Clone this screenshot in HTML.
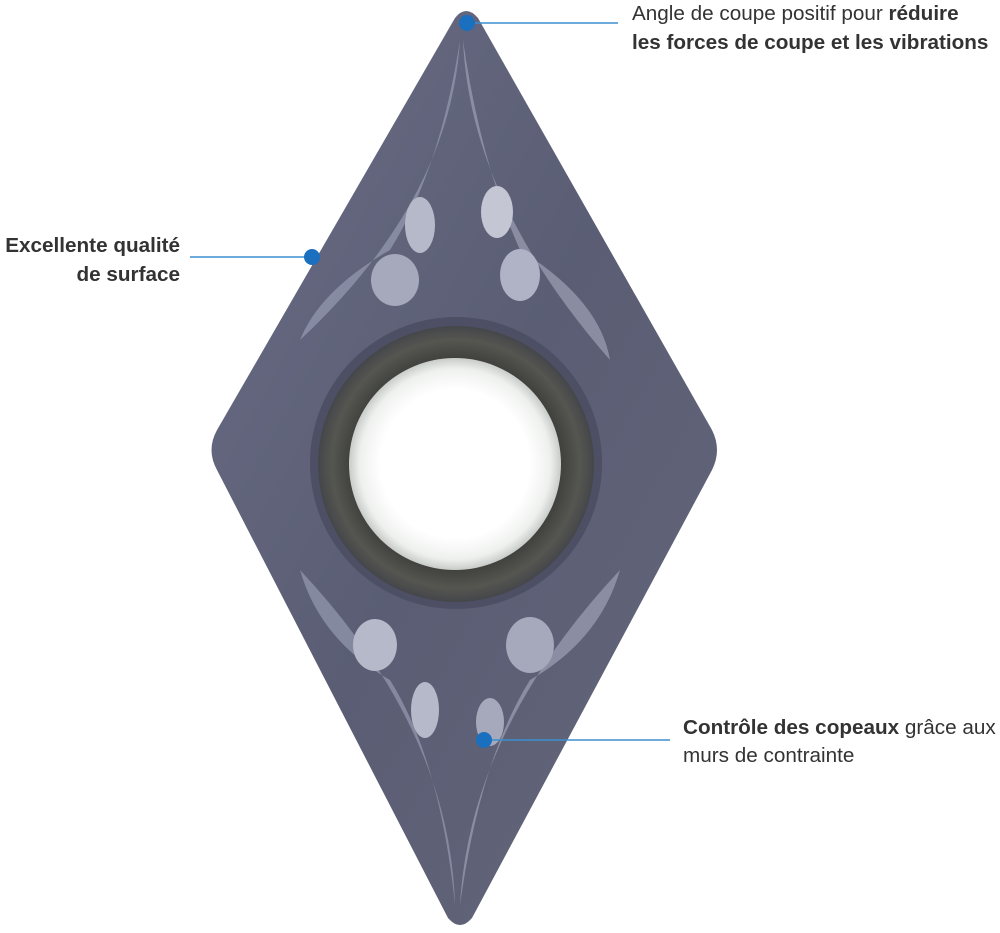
<!DOCTYPE html>
<html><head><meta charset="utf-8"><style>
html,body{margin:0;padding:0;background:#fff;}
body{width:1000px;height:933px;position:relative;overflow:hidden;font-family:"Liberation Sans",sans-serif;}
.t{position:absolute;font-size:20.7px;color:#333;line-height:28px;white-space:nowrap;}
b{color:#333;}
</style></head><body>
<svg width="1000" height="933" style="position:absolute;left:0;top:0">
<defs>
<linearGradient id="body" x1="0" y1="0" x2="1" y2="1">
<stop offset="0" stop-color="#6a6d86"/><stop offset="0.5" stop-color="#5a5d73"/><stop offset="1" stop-color="#65667c"/>
</linearGradient>
<radialGradient id="hole" cx="0.5" cy="0.5" r="0.5">
<stop offset="0.7" stop-color="#ffffff"/><stop offset="0.9" stop-color="#eef0ee"/><stop offset="1" stop-color="#c8ccc8"/>
</radialGradient>
<radialGradient id="ring" cx="0.5" cy="0.5" r="0.5">
<stop offset="0.72" stop-color="#3a3b38"/><stop offset="0.9" stop-color="#555650"/><stop offset="1" stop-color="#45464a"/>
</radialGradient>
</defs>
<path d="M455,18 Q466,4 478,18 L712,430 Q722,450 712,470 L472,918 Q460,932 448,918 L217,470 Q206,450 217,430 Z" fill="url(#body)"/>
<path d="M463,40 Q470,200 610,360 Q600,300 520,250 Q480,160 463,40Z" fill="#9699ae" opacity="0.8"/>
<path d="M460,40 Q450,200 300,340 Q320,290 390,250 Q440,170 460,40Z" fill="#9195ab" opacity="0.8"/>
<path d="M455,905 Q450,730 300,570 Q320,640 390,680 Q440,760 455,905Z" fill="#8f93aa" opacity="0.8"/>
<path d="M460,905 Q470,730 620,570 Q600,640 530,680 Q480,760 460,905Z" fill="#9699ae" opacity="0.8"/>
<ellipse cx="497" cy="212" rx="16" ry="26" fill="#c4c6d4"/>
<ellipse cx="520" cy="275" rx="20" ry="26" fill="#b0b3c5"/>
<ellipse cx="395" cy="280" rx="24" ry="26" fill="#a6a9bc"/>
<ellipse cx="420" cy="225" rx="15" ry="28" fill="#b6b9c9"/>
<ellipse cx="375" cy="645" rx="22" ry="26" fill="#b6b9c9"/>
<ellipse cx="530" cy="645" rx="24" ry="28" fill="#a6a9bc"/>
<ellipse cx="425" cy="710" rx="14" ry="28" fill="#b6b9c9"/>
<ellipse cx="490" cy="722" rx="14" ry="24" fill="#a6a9bc"/>
<circle cx="456" cy="463" r="146" fill="#4d5064"/>
<circle cx="456" cy="464" r="138" fill="url(#ring)"/>
<circle cx="455" cy="464" r="106" fill="url(#hole)"/>
<g stroke="#3b8fd0" stroke-width="1.5">
<line x1="467" y1="23" x2="618" y2="23"/>
<line x1="190" y1="257" x2="312" y2="257"/>
<line x1="484" y1="740" x2="670" y2="740"/>
</g>
<g fill="#1b6fbf">
<circle cx="467" cy="23" r="8"/>
<circle cx="312" cy="257" r="8"/>
<circle cx="484" cy="740" r="8"/>
</g>
</svg>
<div class="t" style="left:632px;top:-1px;line-height:29px">Angle de coupe positif pour <b>réduire</b><br><b>les forces de coupe et les vibrations</b></div>
<div class="t" style="right:820px;top:231px;text-align:right;line-height:29px"><b>Excellente qualité</b><br><b>de surface</b></div>
<div class="t" style="left:683px;top:714px"><b>Contrôle des copeaux</b> grâce aux<br>murs de contrainte</div>
</body></html>
